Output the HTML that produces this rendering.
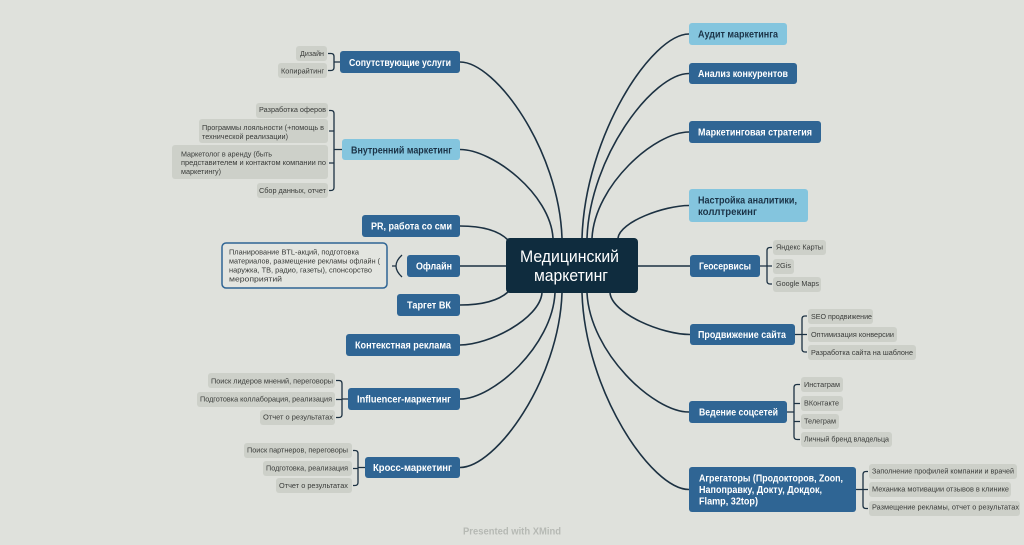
<!DOCTYPE html>
<html><head><meta charset="utf-8"><style>
html,body{margin:0;padding:0;background:#dfe1dc;}
svg{display:block;}
text{font-family:"Liberation Sans","DejaVu Sans",sans-serif;}
.br{font-size:10.5px;font-weight:bold;fill:#ffffff;}
.brl{font-size:10.5px;font-weight:bold;fill:#1b3347;}
.lf{font-size:7.6px;fill:#3a3c3a;}
.dk{fill:#2f6594;}
.lt{fill:#84c5de;}
.leaf{fill:#cdd0c9;}
.con{fill:none;stroke:#1c3142;stroke-width:1.6;}
.bk{fill:none;stroke:#1c3142;stroke-width:1.3;}
</style></head><body>
<svg width="1024" height="545" viewBox="0 0 1024 545" xmlns="http://www.w3.org/2000/svg">
<rect x="0" y="0" width="1024" height="545" fill="#dfe1dc"/>

<!-- connectors -->
<path class="con" d="M460,62 C495.7,62 558.9,150 562,238"/>
<path class="con" d="M460,149.5 C492.6,149.5 550.2,193.8 553,238"/>
<path class="con" d="M460,226 C482,226 498,230 508,240"/>
<path class="con" d="M460,266 H506"/>
<path class="con" d="M460,305 C482,305 498,301 508,292"/>
<path class="con" d="M460,345 C488.7,345 539.5,319 542,293"/>
<path class="con" d="M460,399 C493.3,399 552.2,346 555,293"/>
<path class="con" d="M460,467.5 C495.7,467.5 558.9,380.3 562,293"/>
<path class="con" d="M689,34 C651.6,34 585.2,136 582,238"/>
<path class="con" d="M689,73.5 C653.3,73.5 590.1,155.8 587,238"/>
<path class="con" d="M689,132 C655,132 594.9,185 592,238"/>
<path class="con" d="M689,205.5 C664.2,205.5 620.1,221.8 618,238"/>
<path class="con" d="M638,266 H690"/>
<path class="con" d="M690,334.5 C662,334.5 612.4,313.8 610,293"/>
<path class="con" d="M689,412 C653.3,412 590.1,352.5 587,293"/>
<path class="con" d="M689,489.5 C651.6,489.5 585.2,391.3 582,293"/>

<!-- brackets left -->
<path class="bk" d="M328,53.5 H331 Q334,53.5 334,56.5 V67.5 Q334,70.5 331,70.5 H328 M334,62 H340"/>
<path class="bk" d="M329,110.5 H331 Q334,110.5 334,113.5 V187.5 Q334,190.5 331,190.5 H329 M329,131 H334 M329,163 H334 M334,149.5 H342"/>
<path class="bk" d="M336,380.5 H339 Q342,380.5 342,383.5 V414.5 Q342,417.5 339,417.5 H336 M336,399.5 H342 M342,399 H348"/>
<path class="bk" d="M353,450.5 H355 Q358,450.5 358,453.5 V482.5 Q358,485.5 355,485.5 H353 M353,468.5 H358 M358,467.5 H365"/>
<path class="bk" d="M402,255 Q390,266 402,277 M392,266 H396"/>
<!-- brackets right -->
<path class="bk" d="M772,247.5 H770 Q767,247.5 767,250.5 V281 Q767,284 770,284 H772 M767,266 H772 M760,266 H767"/>
<path class="bk" d="M807,316 H805 Q802,316 802,319 V349 Q802,352 805,352 H807 M802,334.5 H807 M795,334.5 H802"/>
<path class="bk" d="M800,384.5 H797 Q794,384.5 794,387.5 V436.5 Q794,439.5 797,439.5 H800 M794,403.5 H800 M794,421.5 H800 M787,412 H794"/>
<path class="bk" d="M868,471.5 H866 Q863,471.5 863,474.5 V505.5 Q863,508.5 866,508.5 H868 M863,489.5 H868 M856,489.5 H863"/>

<!-- center -->
<rect x="506" y="238" width="132" height="55" rx="4" fill="#0f2c3e"/>
<text x="520" y="262" font-size="17" fill="#ffffff" textLength="99" lengthAdjust="spacingAndGlyphs">Медицинский</text>
<text x="534" y="281" font-size="17" fill="#ffffff" textLength="74" lengthAdjust="spacingAndGlyphs">маркетинг</text>

<!-- left branches -->
<rect class="dk" x="340" y="51" width="120" height="22" rx="3"/>
<text class="br" x="349" y="66" textLength="102" lengthAdjust="spacingAndGlyphs">Сопутствующие услуги</text>
<rect class="lt" x="342" y="139" width="118" height="21" rx="3"/>
<text class="brl" x="351" y="153.5" textLength="101" lengthAdjust="spacingAndGlyphs">Внутренний маркетинг</text>
<rect class="dk" x="362" y="215" width="98" height="22" rx="3"/>
<text class="br" x="371" y="229.5" textLength="81" lengthAdjust="spacingAndGlyphs">PR, работа со сми</text>
<rect class="dk" x="407" y="255" width="53" height="22" rx="3"/>
<text class="br" x="416" y="269.5" textLength="36" lengthAdjust="spacingAndGlyphs">Офлайн</text>
<rect class="dk" x="397" y="294" width="63" height="22" rx="3"/>
<text class="br" x="407" y="308.5" textLength="44" lengthAdjust="spacingAndGlyphs">Таргет ВК</text>
<rect class="dk" x="346" y="334" width="114" height="22" rx="3"/>
<text class="br" x="355" y="348.5" textLength="96" lengthAdjust="spacingAndGlyphs">Контекстная реклама</text>
<rect class="dk" x="348" y="388" width="112" height="22" rx="3"/>
<text class="br" x="357" y="402.5" textLength="94" lengthAdjust="spacingAndGlyphs">Influencer-маркетинг</text>
<rect class="dk" x="365" y="457" width="95" height="21" rx="3"/>
<text class="br" x="373" y="471" textLength="79" lengthAdjust="spacingAndGlyphs">Кросс-маркетинг</text>

<!-- right branches -->
<rect class="lt" x="689" y="23" width="98" height="22" rx="3"/>
<text class="brl" x="698" y="37.5" textLength="80" lengthAdjust="spacingAndGlyphs">Аудит маркетинга</text>
<rect class="dk" x="689" y="63" width="108" height="21" rx="3"/>
<text class="br" x="698" y="77" textLength="90" lengthAdjust="spacingAndGlyphs">Анализ конкурентов</text>
<rect class="dk" x="689" y="121" width="132" height="22" rx="3"/>
<text class="br" x="698" y="135.5" textLength="114" lengthAdjust="spacingAndGlyphs">Маркетинговая стратегия</text>
<rect class="lt" x="689" y="189" width="119" height="33" rx="3"/>
<text class="brl" x="698" y="203.5" textLength="99" lengthAdjust="spacingAndGlyphs">Настройка аналитики,</text>
<text class="brl" x="698" y="215" textLength="59" lengthAdjust="spacingAndGlyphs">коллтрекинг</text>
<rect class="dk" x="690" y="255" width="70" height="22" rx="3"/>
<text class="br" x="699" y="269.5" textLength="52" lengthAdjust="spacingAndGlyphs">Геосервисы</text>
<rect class="dk" x="690" y="324" width="105" height="21" rx="3"/>
<text class="br" x="698" y="338" textLength="88" lengthAdjust="spacingAndGlyphs">Продвижение сайта</text>
<rect class="dk" x="689" y="401" width="98" height="22" rx="3"/>
<text class="br" x="699" y="415.5" textLength="79" lengthAdjust="spacingAndGlyphs">Ведение соцсетей</text>
<rect class="dk" x="689" y="467" width="167" height="45" rx="3"/>
<text class="br" x="699" y="481.5" textLength="144" lengthAdjust="spacingAndGlyphs">Агрегаторы (Продокторов, Zoon,</text>
<text class="br" x="699" y="493" textLength="123" lengthAdjust="spacingAndGlyphs">Напоправку, Докту, Докдок,</text>
<text class="br" x="699" y="504.5" textLength="59" lengthAdjust="spacingAndGlyphs">Flamp, 32top)</text>

<!-- offline box -->
<rect x="222" y="243" width="165" height="45" rx="4" fill="#e3e5e0" stroke="#2f6594" stroke-width="1.5"/>
<text class="lf" x="229" y="254.5" textLength="130" lengthAdjust="spacingAndGlyphs">Планирование BTL-акций, подготовка</text>
<text class="lf" x="229" y="263.5" textLength="151" lengthAdjust="spacingAndGlyphs">материалов, размещение рекламы офлайн (</text>
<text class="lf" x="229" y="272.5" textLength="143" lengthAdjust="spacingAndGlyphs">наружка, ТВ, радио, газеты), спонсорство</text>
<text class="lf" x="229" y="281.3" textLength="53" lengthAdjust="spacingAndGlyphs">мероприятий</text>

<!-- left leaves -->
<rect class="leaf" x="296" y="46" width="31" height="15" rx="3"/>
<text class="lf" x="300" y="56" textLength="24" lengthAdjust="spacingAndGlyphs">Дизайн</text>
<rect class="leaf" x="278" y="63" width="49" height="15" rx="3"/>
<text class="lf" x="281" y="73.3" textLength="43" lengthAdjust="spacingAndGlyphs">Копирайтинг</text>
<rect class="leaf" x="256" y="103" width="72" height="15" rx="3"/>
<text class="lf" x="259" y="112" textLength="67" lengthAdjust="spacingAndGlyphs">Разработка оферов</text>
<rect class="leaf" x="199" y="119" width="129" height="24" rx="3"/>
<text class="lf" x="202" y="130" textLength="122" lengthAdjust="spacingAndGlyphs">Программы лояльности (+помощь в</text>
<text class="lf" x="202" y="139" textLength="86" lengthAdjust="spacingAndGlyphs">технической реализации)</text>
<rect class="leaf" x="172" y="145" width="156" height="34" rx="3"/>
<text class="lf" x="181" y="156.5" textLength="91" lengthAdjust="spacingAndGlyphs">Маркетолог в аренду (быть</text>
<text class="lf" x="181" y="165.2" textLength="145" lengthAdjust="spacingAndGlyphs">представителем и контактом компании по</text>
<text class="lf" x="181" y="174" textLength="40" lengthAdjust="spacingAndGlyphs">маркетингу)</text>
<rect class="leaf" x="257" y="183" width="71" height="15" rx="3"/>
<text class="lf" x="259" y="193" textLength="67" lengthAdjust="spacingAndGlyphs">Сбор данных, отчет</text>

<rect class="leaf" x="208" y="373" width="127" height="15" rx="3"/>
<text class="lf" x="211" y="383.3" textLength="122" lengthAdjust="spacingAndGlyphs">Поиск лидеров мнений, переговоры</text>
<rect class="leaf" x="197" y="392" width="138" height="15" rx="3"/>
<text class="lf" x="200" y="401.5" textLength="132" lengthAdjust="spacingAndGlyphs">Подготовка коллаборация, реализация</text>
<rect class="leaf" x="260" y="410" width="75" height="15" rx="3"/>
<text class="lf" x="263" y="419.5" textLength="70" lengthAdjust="spacingAndGlyphs">Отчет о результатах</text>

<rect class="leaf" x="244" y="443" width="108" height="15" rx="3"/>
<text class="lf" x="247" y="452.5" textLength="101" lengthAdjust="spacingAndGlyphs">Поиск партнеров, переговоры</text>
<rect class="leaf" x="263" y="461" width="89" height="15" rx="3"/>
<text class="lf" x="266" y="470.3" textLength="82" lengthAdjust="spacingAndGlyphs">Подготовка, реализация</text>
<rect class="leaf" x="276" y="478" width="76" height="15" rx="3"/>
<text class="lf" x="279" y="488" textLength="69" lengthAdjust="spacingAndGlyphs">Отчет о результатах</text>

<!-- right leaves -->
<rect class="leaf" x="773" y="240" width="53" height="15" rx="3"/>
<text class="lf" x="776" y="249.5" textLength="47" lengthAdjust="spacingAndGlyphs">Яндекс Карты</text>
<rect class="leaf" x="773" y="259" width="21" height="15" rx="3"/>
<text class="lf" x="776" y="268" textLength="15" lengthAdjust="spacingAndGlyphs">2Gis</text>
<rect class="leaf" x="773" y="277" width="48" height="15" rx="3"/>
<text class="lf" x="776" y="286" textLength="43" lengthAdjust="spacingAndGlyphs">Google Maps</text>

<rect class="leaf" x="808" y="309" width="65" height="15" rx="3"/>
<text class="lf" x="811" y="319" textLength="61" lengthAdjust="spacingAndGlyphs">SEO продвижение</text>
<rect class="leaf" x="808" y="327" width="89" height="15" rx="3"/>
<text class="lf" x="811" y="337" textLength="83" lengthAdjust="spacingAndGlyphs">Оптимизация конверсии</text>
<rect class="leaf" x="808" y="345" width="108" height="15" rx="3"/>
<text class="lf" x="811" y="355.2" textLength="102" lengthAdjust="spacingAndGlyphs">Разработка сайта на шаблоне</text>

<rect class="leaf" x="801" y="377" width="42" height="15" rx="3"/>
<text class="lf" x="804" y="387.2" textLength="36" lengthAdjust="spacingAndGlyphs">Инстаграм</text>
<rect class="leaf" x="801" y="396" width="42" height="15" rx="3"/>
<text class="lf" x="804" y="405.3" textLength="35" lengthAdjust="spacingAndGlyphs">ВКонтакте</text>
<rect class="leaf" x="801" y="414" width="38" height="15" rx="3"/>
<text class="lf" x="804" y="423.5" textLength="32" lengthAdjust="spacingAndGlyphs">Телеграм</text>
<rect class="leaf" x="801" y="432" width="91" height="15" rx="3"/>
<text class="lf" x="804" y="441.5" textLength="85" lengthAdjust="spacingAndGlyphs">Личный бренд владельца</text>

<rect class="leaf" x="869" y="464" width="148" height="15" rx="3"/>
<text class="lf" x="872" y="473.5" textLength="142" lengthAdjust="spacingAndGlyphs">Заполнение профилей компании и врачей</text>
<rect class="leaf" x="869" y="482" width="142" height="15" rx="3"/>
<text class="lf" x="872" y="491.5" textLength="137" lengthAdjust="spacingAndGlyphs">Механика мотивации отзывов в клинике</text>
<rect class="leaf" x="869" y="501" width="151" height="15" rx="3"/>
<text class="lf" x="872" y="509.5" textLength="147" lengthAdjust="spacingAndGlyphs">Размещение рекламы, отчет о результатах</text>

<text x="463" y="534.5" font-size="10" font-weight="bold" fill="#b6b9b4" textLength="98" lengthAdjust="spacingAndGlyphs">Presented with XMind</text>
</svg>
</body></html>
